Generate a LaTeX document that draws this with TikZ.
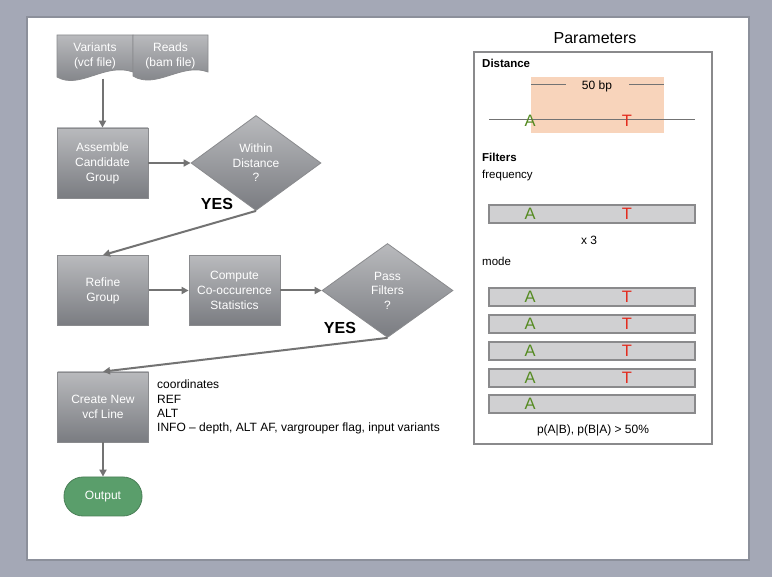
\documentclass[tikz,border=0pt]{standalone}
\usepackage{fontspec}
\setmainfont{Liberation Sans}
\usetikzlibrary{shapes.geometric,arrows.meta}
\definecolor{bgc}{HTML}{A4A8B6}
\definecolor{pageedge}{HTML}{8C909B}
\definecolor{boxedge}{HTML}{8A8B8E}
\definecolor{gtop}{HTML}{B9BABD}
\definecolor{gbot}{HTML}{7A7C81}
\definecolor{linec}{HTML}{737373}
\definecolor{outfill}{HTML}{5A9E6B}
\definecolor{outedge}{HTML}{4A7F57}
\definecolor{peach}{HTML}{F8D4BB}
\definecolor{barfill}{HTML}{D0D0D2}
\definecolor{baredge}{HTML}{8A8A8C}
\definecolor{agreen}{HTML}{558B22}
\definecolor{tred}{HTML}{E32B1E}
\begin{document}
\begin{tikzpicture}[x=1pt,y=-1pt,
  box/.style={draw=boxedge, line width=0.8pt, top color=gtop, bottom color=gbot,
    minimum width=91pt, minimum height=70pt, text=white, align=center,
    font=\fontsize{12}{15}\selectfont, inner sep=0pt},
  dec/.style={shape=diamond, draw=boxedge, line width=0.8pt, top color=gtop, bottom color=gbot,
    text=white, align=center, font=\fontsize{12}{14.5}\selectfont, inner sep=0pt,
    minimum width=130pt, minimum height=95pt},
  docshape/.style={draw=boxedge, line width=0.8pt, top color=gtop, bottom color=gbot},
  doctext/.style={text=white, align=center, font=\fontsize{12}{15}\selectfont,
    inner sep=0pt, minimum width=76pt, minimum height=45pt},
  flow/.style={draw=linec, line width=2pt, -{Triangle[length=7pt,width=7pt]}},
  yes/.style={font=\bfseries\fontsize{16}{18}\selectfont, inner sep=0pt},
  plain/.style={font=\fontsize{12}{14}\selectfont, inner sep=0pt},
  head/.style={font=\bfseries\fontsize{11.5}{13}\selectfont, inner sep=0pt, anchor=west},
  lbl/.style={font=\fontsize{11.5}{13}\selectfont, inner sep=0pt, anchor=west},
  aletter/.style={text=agreen, font=\fontsize{16.5}{18}\selectfont, inner sep=0pt},
  tletter/.style={text=tred, font=\fontsize{16.5}{18}\selectfont, inner sep=0pt},
  bar/.style={fill=barfill, draw=baredge, line width=1.4pt},
  thinline/.style={draw=linec, line width=1pt}]
\useasboundingbox (0,0) rectangle (772,577);
\fill[bgc] (0,0) rectangle (772,577);
\fill[white] (28,18) rectangle (748,559);
\draw[pageedge, line width=2pt] (27,17) rectangle (749,560);

% document shapes
\shade[docshape] (57,35) -- (133,35) -- (133,72) .. controls (105,62) and (80,90) .. (57,77) -- cycle;
\shade[docshape] (133,35) -- (208,35) -- (208,72) .. controls (182,62) and (156,90) .. (133,76) -- cycle;
\node[doctext] (var) at (95,56) {Variants\\(vcf file)};
\node[doctext] (rds) at (170.5,56) {Reads\\(bam file)};

% flow nodes
\node[box] (asm) at (102.5,163) {Assemble\\Candidate\\Group};
\node[dec] (dia1) at (256,163) {Within\\Distance\\?};
\node[yes] (y1) at (217,204) {YES};
\node[box] (ref) at (103,290.5) {Refine\\Group};
\node[box] (cmp) at (234.5,290.5) {Compute\\Co-occurence\\Statistics};
\node[dec, minimum width=131pt, minimum height=94pt] (dia2) at (387.5,290.5) {Pass\\Filters\\?};
\node[yes] (y2) at (340,328) {YES};
\node[box] (crt) at (103,407) {Create New\\vcf Line};
\node[draw=outedge, line width=0.8pt, fill=outfill, rounded corners=19pt, minimum width=78pt,
  minimum height=39pt, text=white, font=\fontsize{12}{14}\selectfont, inner sep=0pt] (out) at (103,496.5) {Output};
\node[anchor=north west, align=left, font=\fontsize{12}{14.3}\selectfont, inner sep=0pt] (info) at (157,380)
  {coordinates\\REF\\ALT\\INFO – depth, ALT AF, vargrouper flag, input variants};

% connectors
\draw[flow] (var.south -| asm.north) -- (asm.north);
\draw[flow] (asm.east) -- (dia1.west);
\draw[flow] (dia1.south) -- (ref.north);
\draw[flow] (ref.east) -- (cmp.west);
\draw[flow] (cmp.east) -- (dia2.west);
\draw[flow] (dia2.south) -- (crt.north);
\draw[flow] (crt.south) -- (out.north);

% parameters panel
\node[font=\fontsize{16}{18}\selectfont, inner sep=0pt] (ptitle) at (595,38) {Parameters};
\node[draw=baredge, line width=1.2pt, minimum width=238pt, minimum height=392pt, inner sep=0pt] (panel) at (593,248) {};
\node[head] (dist) at (482,63) {Distance};
\fill[peach] (531,77) rectangle (664,133);
\draw[thinline] (531,85) -- (566,85);
\draw[thinline] (629,85) -- (664,85);
\node[plain] (bp) at (597,86) {50 bp};
\draw[thinline] (489,120) -- (695,120);
\node[aletter] (a0) at (530,121) {A};
\node[tletter] (t0) at (627,121) {T};
\node[head] (filt) at (482,157) {Filters};
\node[lbl] (freq) at (482,176) {frequency};
\draw[bar] (489,205) rectangle (695,223);
\node[aletter] (a1) at (530,214) {A};
\node[tletter] (t1) at (627,214) {T};
\node[plain] (x3) at (589,240) {x 3};
\node[lbl] (mode) at (482,261) {mode};
\foreach \yy in {288,315,342,369} {
  \draw[bar] (489,\yy) rectangle (695,\yy+18);
  \node[aletter] at (530,\yy+9) {A};
  \node[tletter] at (627,\yy+9) {T};
}
\draw[bar] (489,395) rectangle (695,413);
\node[aletter] (a6) at (530,404) {A};
\node[plain] (prob) at (593,430) {p(A|B), p(B|A) > 50\%};
\end{tikzpicture}
\end{document}
